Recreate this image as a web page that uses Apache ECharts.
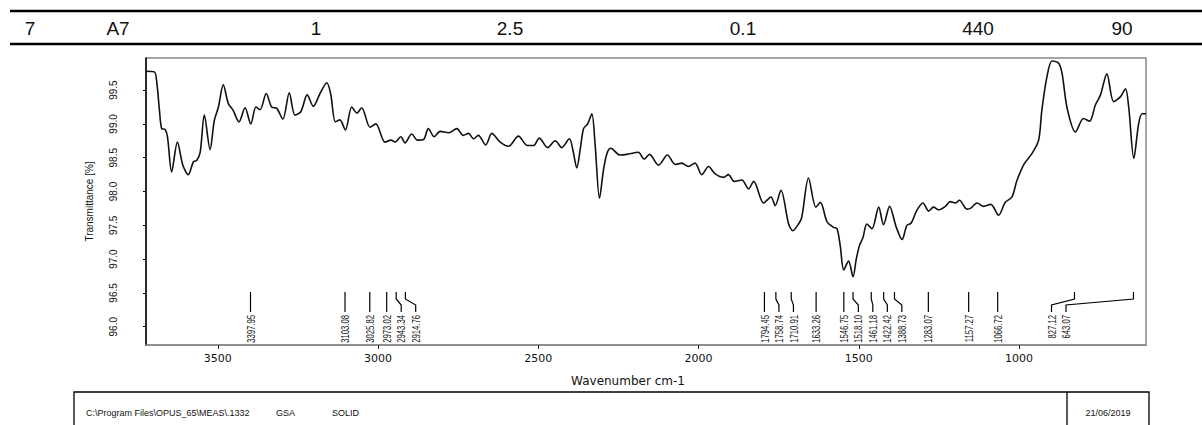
<!DOCTYPE html>
<html>
<head>
<meta charset="utf-8">
<script src="https://cdn.jsdelivr.net/npm/echarts@6/dist/echarts.min.js"></script>
<style>
  html, body { margin: 0; padding: 0; background: #fff; }
  #chart { width: 1202px; height: 425px; }
</style>
</head>
<body>
<div id="chart"></div>
<script>
// IR spectrum: wavenumber (cm-1) and transmittance (%)
const wavenumbers = [
  3724, 3698, 3690, 3682, 3675, 3665, 3657, 3644, 3626, 3609, 3592, 3576, 3566, 3555, 3542, 3524,
  3511, 3498, 3483, 3467, 3452, 3434, 3415, 3397, 3381, 3368, 3349, 3332, 3316, 3297, 3277, 3259,
  3241, 3221, 3202, 3181, 3160, 3148, 3133, 3119, 3102, 3082, 3066, 3051, 3025, 3007, 2978, 2959,
  2947, 2929, 2916, 2895, 2877, 2858, 2843, 2825, 2806, 2780, 2754, 2734, 2718, 2702, 2687, 2664,
  2645, 2619, 2593, 2562, 2534, 2515, 2497, 2471, 2447, 2427, 2403, 2392, 2380, 2369, 2359, 2346,
  2333, 2323, 2309, 2297, 2286, 2274, 2245, 2224, 2188, 2170, 2153, 2125, 2097, 2073, 2052, 2032,
  2011, 1990, 1969, 1948, 1922, 1907, 1889, 1865, 1844, 1828, 1797, 1774, 1761, 1743, 1719, 1706,
  1688, 1678, 1657, 1634, 1620, 1599, 1579, 1568, 1558, 1547, 1532, 1518, 1508, 1498, 1487, 1475,
  1459, 1438, 1423, 1404, 1383, 1365, 1350, 1337, 1319, 1300, 1282, 1267, 1251, 1230, 1215, 1199,
  1186, 1163, 1152, 1131, 1111, 1088, 1064, 1043, 1022, 1007, 984, 960, 939, 929, 913, 897,
  877, 866, 850, 824, 799, 780, 762, 746, 726, 705, 684, 668, 658, 642, 627, 616, 604
];
const transmittance = [
  99.78, 99.77, 99.60, 99.20, 98.93, 98.92, 98.81, 98.29, 98.73, 98.39, 98.25, 98.44, 98.46, 98.58, 99.13, 98.62,
  99.05, 99.25, 99.58, 99.30, 99.20, 99.03, 99.24, 99.00, 99.25, 99.21, 99.45, 99.25, 99.23, 99.07, 99.46, 99.13,
  99.18, 99.43, 99.26, 99.45, 99.61, 99.45, 99.03, 99.06, 98.91, 99.25, 99.16, 99.24, 98.95, 99.00, 98.73, 98.76,
  98.73, 98.81, 98.72, 98.85, 98.76, 98.77, 98.93, 98.81, 98.89, 98.87, 98.93, 98.83, 98.86, 98.78, 98.83, 98.69,
  98.86, 98.73, 98.67, 98.82, 98.68, 98.68, 98.79, 98.65, 98.75, 98.65, 98.78, 98.61, 98.35, 98.63, 98.93, 99.00,
  99.15, 98.71, 97.90, 98.31, 98.56, 98.64, 98.54, 98.55, 98.58, 98.48, 98.55, 98.39, 98.54, 98.40, 98.42, 98.37,
  98.42, 98.25, 98.37, 98.26, 98.21, 98.25, 98.15, 98.17, 98.04, 98.15, 97.83, 97.92, 97.79, 98.02, 97.52, 97.42,
  97.52, 97.62, 98.20, 97.77, 97.84, 97.55, 97.47, 97.45, 97.20, 96.84, 96.97, 96.74, 97.00, 97.20, 97.32, 97.52,
  97.45, 97.77, 97.51, 97.78, 97.47, 97.29, 97.50, 97.53, 97.72, 97.83, 97.71, 97.77, 97.73, 97.78, 97.85, 97.83,
  97.87, 97.74, 97.75, 97.83, 97.78, 97.81, 97.65, 97.84, 97.92, 98.16, 98.41, 98.56, 98.76, 99.20, 99.70, 99.93,
  99.90, 99.75, 99.23, 98.88, 99.08, 99.04, 99.28, 99.43, 99.74, 99.33, 99.40, 99.52, 99.25, 98.49, 99.00, 99.15, 99.15
];
// picked peaks
const peakPositions = [
  3397.95, 3103.08, 3025.82, 2973.02, 2943.34, 2914.76, 1794.45, 1758.74, 1710.91, 1633.26,
  1546.75, 1518.10, 1461.18, 1422.42, 1388.73, 1283.07, 1157.27, 1066.72, 827.12, 643.07
];
const xTicks = [3500, 3000, 2500, 2000, 1500, 1000];
const yTicks = [96.0, 96.5, 97.0, 97.5, 98.0, 98.5, 99.0, 99.5];
// table row above the plot
const headerCells = ['7', 'A7', '1', '2.5', '0.1', '440', '90'];
const headerX = [30, 118, 316, 510, 743, 978, 1122];
// footer
const footerItems = ['C:\\Program Files\\OPUS_65\\MEAS\\.1332', 'GSA', 'SOLID'];
const footerX = [86, 276, 332];
const footerDate = '21/06/2019';

const xMin = 604, xMax = 3724;
const yMin = 95.73, yMax = 99.975;

let chartDom = document.getElementById('chart');
let myChart = echarts.init(chartDom, null, { renderer: 'svg' });

//label layout for picked peaks, crowded labels are pushed to the right
const GAP = 14.5;
function renderPeak(params, api) {
  const cs = params.coordSys;
  const bottom = cs.y + cs.height;
  const px = peakPositions.map(p => api.coord([p, yMin])[0]);
  const lx = px.slice();
  for (let i = 1; i < lx.length; i++) lx[i] = Math.max(lx[i], lx[i - 1] + GAP);
  const cap = cs.x + cs.width - 80;
  if (lx[lx.length - 1] > cap) lx[lx.length - 1] = cap;
  for (let i = lx.length - 2; i >= 0; i--) lx[i] = Math.min(lx[i], lx[i + 1] - GAP);
  const i = params.dataIndex;
  return {
    type: 'group',
    children: [
      {
        type: 'polyline',
        shape: { points: [[px[i], bottom - 53], [px[i], bottom - 46], [lx[i], bottom - 40], [lx[i], bottom - 33]] },
        style: { stroke: '#000', lineWidth: 1.2, fill: null }
      },
      {
        type: 'text',
        x: lx[i],
        y: bottom - 30,
        rotation: Math.PI / 2,
        scaleX: 0.7,
        style: {
          text: peakPositions[i].toFixed(2),
          align: 'right',
          verticalAlign: 'middle',
          font: '11px "Liberation Sans"',
          fill: '#111'
        }
      }
    ]
  };
}

let graphics = [
  { type: 'line', shape: { x1: 10, y1: 11, x2: 1202, y2: 11 }, style: { stroke: '#000', lineWidth: 2.5 } },
  { type: 'line', shape: { x1: 10, y1: 44, x2: 1202, y2: 44 }, style: { stroke: '#000', lineWidth: 2.5 } },
  { type: 'rect', shape: { x: 74, y: 392, width: 1075, height: 60 }, style: { stroke: '#000', fill: null, lineWidth: 1.3 } },
  { type: 'line', shape: { x1: 1067, y1: 392, x2: 1067, y2: 425 }, style: { stroke: '#000', lineWidth: 1.3 } },
  {
    type: 'text', x: 1108, y: 413,
    style: { text: footerDate, align: 'center', verticalAlign: 'middle', font: '9px "Liberation Sans"', fill: '#111' }
  }
];
headerCells.forEach((t, k) => {
  graphics.push({
    type: 'text', x: headerX[k], y: 28,
    style: { text: t, align: 'center', verticalAlign: 'middle', font: '19px "Liberation Sans"', fill: '#111' }
  });
});
footerItems.forEach((t, k) => {
  graphics.push({
    type: 'text', x: footerX[k], y: 413,
    style: { text: t, align: 'left', verticalAlign: 'middle', font: '9px "Liberation Sans"', fill: '#111' }
  });
});

let option = {
  animation: false,
  backgroundColor: '#fff',
  grid: {
    left: 146, right: 56, top: 58, bottom: 80,
    show: true, borderColor: '#888', borderWidth: 1.5, backgroundColor: 'transparent'
  },
  xAxis: {
    type: 'value',
    min: xMin, max: xMax,
    inverse: true,
    name: 'Wavenumber cm-1',
    nameLocation: 'middle',
    nameGap: 30,
    nameTextStyle: { fontFamily: 'DejaVu Sans', fontSize: 12, color: '#111', padding: [0, 36, 0, 0] },
    axisLine: { show: true, lineStyle: { color: '#888', width: 1.5 } },
    axisTick: { show: true, length: 4, customValues: xTicks, lineStyle: { color: '#222' } },
    axisLabel: {
      customValues: xTicks, margin: 8,
      formatter: v => String(v),
      fontFamily: 'DejaVu Sans', fontSize: 11, color: '#111'
    },
    splitLine: { show: false }
  },
  yAxis: {
    type: 'value',
    min: yMin, max: yMax,
    name: 'Transmittance [%]',
    nameLocation: 'middle',
    nameRotate: 90,
    nameGap: 52,
    nameTextStyle: { fontFamily: 'Liberation Sans', fontSize: 10, color: '#111' },
    axisLine: { show: true, lineStyle: { color: '#000', width: 1.5 } },
    axisTick: { show: true, length: 3, customValues: yTicks, lineStyle: { color: '#000' } },
    axisLabel: {
      customValues: yTicks, rotate: 90, margin: 28,
      formatter: v => v.toFixed(1),
      fontFamily: 'Liberation Sans', fontSize: 10, color: '#111'
    },
    splitLine: { show: false }
  },
  series: [
    {
      name: 'Transmittance',
      type: 'line',
      data: wavenumbers.map((w, k) => [w, transmittance[k]]),
      showSymbol: false,
      smooth: 0.3,
      lineStyle: { color: '#111', width: 1.6 }
    },
    {
      name: 'Peaks',
      type: 'custom',
      data: peakPositions.map(p => [p]),
      renderItem: renderPeak,
      silent: true
    }
  ],
  graphic: graphics
};

option && myChart.setOption(option);
</script>
</body>
</html>
